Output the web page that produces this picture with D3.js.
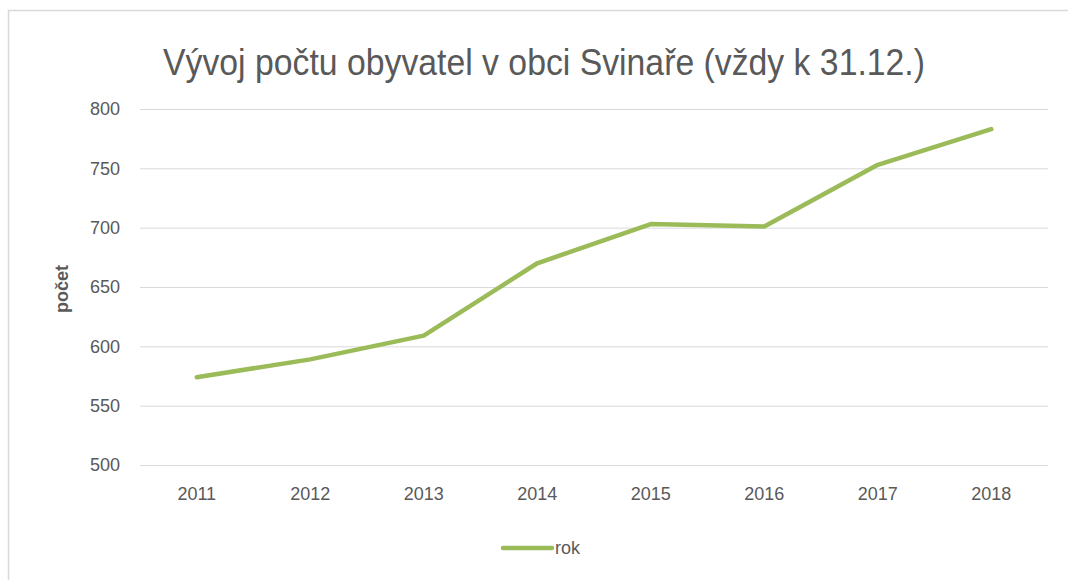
<!DOCTYPE html>
<html><head><meta charset="utf-8">
<script src="https://cdn.jsdelivr.net/npm/d3@7"></script>
<style>
body{margin:0;background:#fff;}
text{font-family:"Liberation Sans Narrow","Liberation Sans",sans-serif;fill:#595959;}
</style></head>
<body><svg id="c" width="1068" height="580"></svg>
<script>
const years = ["2011","2012","2013","2014","2015","2016","2017","2018"];
const population = [574, 589, 609, 670, 703, 701, 753, 783];
const yTicks = [500, 550, 600, 650, 700, 750, 800];
const titleText = "Vývoj počtu obyvatel v obci Svinaře (vždy k 31.12.)";
const yLabel = "počet";
const seriesName = "rok";

const svg = d3.select("#c");
svg.append("rect").attr("x",8.5).attr("y",10.5).attr("width",1070).attr("height",600)
  .attr("fill","#fff").attr("stroke","#d9d9d9").attr("stroke-width",1.5);

const pL = 140, pR = 1048, pT = 109, pB = 465;
const x = d3.scalePoint().domain(years).range([pL, pR]).padding(0.5);
const y = d3.scaleLinear().domain([500, 800]).range([pB, pT]);

svg.append("g").selectAll("line").data(yTicks).join("line")
  .attr("x1",pL).attr("x2",pR)
  .attr("y1",d=>y(d)+0.5).attr("y2",d=>y(d)+0.5)
  .attr("stroke","#d9d9d9").attr("stroke-width",1);

svg.append("g").selectAll("text").data(yTicks).join("text")
  .attr("x",120).attr("y",d=>y(d)).attr("dy","0.35em")
  .attr("text-anchor","end").attr("font-size",18).text(d=>d);

svg.append("g").selectAll("text").data(years).join("text")
  .attr("x",d=>x(d)).attr("y",500).attr("text-anchor","middle")
  .attr("font-size",18).text(d=>d);

svg.append("text").attr("transform","translate(68,289) rotate(-90)")
  .attr("text-anchor","middle").attr("font-size",18).attr("font-weight","bold").text(yLabel);

svg.append("text").attr("x",163).attr("y",75)
  .attr("font-size",36).attr("textLength",762).attr("lengthAdjust","spacingAndGlyphs")
  .text(titleText);

const line = d3.line().x((d,i)=>x(years[i])).y(d=>y(d));
svg.append("path").datum(population).attr("d",line)
  .attr("fill","none").attr("stroke","#9bbb59").attr("stroke-width",4.5)
  .attr("stroke-linejoin","round").attr("stroke-linecap","round");

svg.append("line").attr("x1",503).attr("x2",552).attr("y1",548).attr("y2",548)
  .attr("stroke","#9bbb59").attr("stroke-width",4.5).attr("stroke-linecap","round");
svg.append("text").attr("x",555).attr("y",554).attr("font-size",18).text(seriesName);
</script></body></html>
